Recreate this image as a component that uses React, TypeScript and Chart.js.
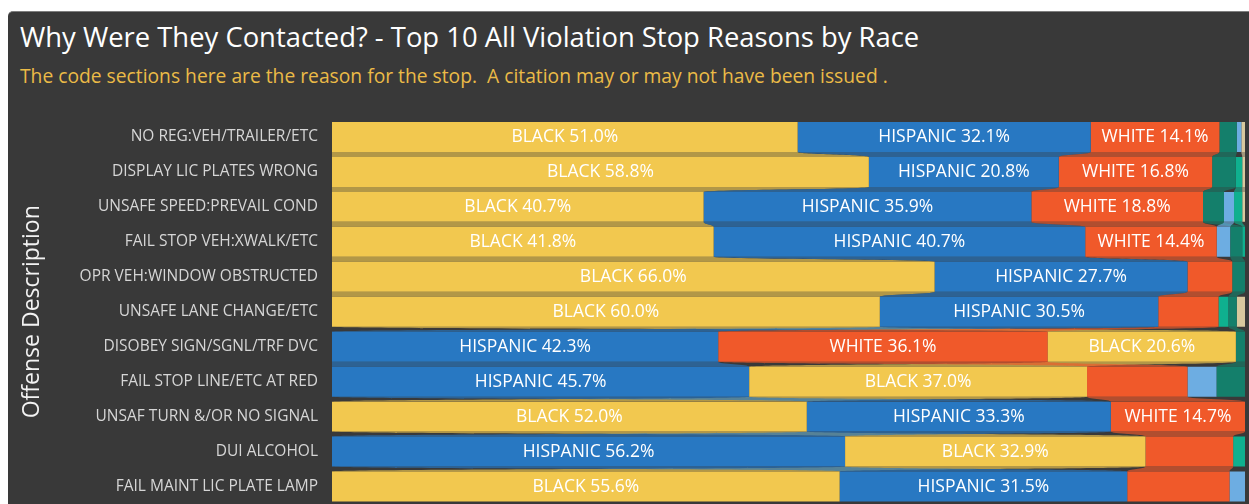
import React, { useEffect, useRef } from "react";
import { Chart, registerables } from "chart.js";

Chart.register(...registerables);

const categories = [
  "NO REG:VEH/TRAILER/ETC",
  "DISPLAY LIC PLATES WRONG",
  "UNSAFE SPEED:PREVAIL COND",
  "FAIL STOP VEH:XWALK/ETC",
  "OPR VEH:WINDOW OBSTRUCTED",
  "UNSAFE LANE CHANGE/ETC",
  "DISOBEY SIGN/SGNL/TRF DVC",
  "FAIL STOP LINE/ETC AT RED",
  "UNSAF TURN &/OR NO SIGNAL",
  "DUI ALCOHOL",
  "FAIL MAINT LIC PLATE LAMP",
];

const seriesNames = ["BLACK", "HISPANIC", "WHITE", "OTHER", "ASIAN", "UNKNOWN", "AMERICAN INDIAN"];

const black = [51.0, 58.8, 40.7, 41.8, 66.0, 60.0, 20.6, 37.0, 52.0, 32.9, 55.6];
const hispanic = [32.1, 20.8, 35.9, 40.7, 27.7, 30.5, 42.3, 45.7, 33.3, 56.2, 31.5];
const white = [14.1, 16.8, 18.8, 14.4, 4.9, 6.6, 36.1, 11.0, 14.7, 9.6, 11.2];
const other = [1.9, 2.6, 2.3, 1.3, 1.4, 0.9, 1.0, 3.1, 0, 0, 0];
const asian = [0.5, 0, 1.1, 1.5, 0, 0, 0, 3.2, 0, 0, 1.7];
const unknown = [0, 0.7, 0.9, 0.3, 0, 1.1, 0, 0, 0, 1.3, 0];
const americanIndian = [0.4, 0.3, 0.3, 0, 0, 0.9, 0, 0, 0, 0, 0];

const seriesValues = [black, hispanic, white, other, asian, unknown, americanIndian];
const seriesColors = ["#F2C84F", "#2878C2", "#F0592A", "#147F6B", "#6DADE2", "#0FB08F", "#D8C89E"];

const FONT = "'Segoe UI', 'Open Sans', sans-serif";

function hexToRgba(hex: string, a: number) {
  const n = parseInt(hex.slice(1), 16);
  return `rgba(${(n >> 16) & 255},${(n >> 8) & 255},${n & 255},${a})`;
}

// per-row ranges: each race placed in descending order of share
function buildRanges() {
  const ranges: ([number, number] | null)[][] = seriesValues.map(() => []);
  categories.forEach((_, i) => {
    const order = seriesValues
      .map((vals, s) => ({ s, v: vals[i] }))
      .sort((a, b) => b.v - a.v || a.s - b.s);
    let cum = 0;
    order.forEach(({ s, v }) => {
      ranges[s][i] = v > 0 ? [cum, cum + v] : null;
      cum += v;
    });
  });
  return ranges;
}

const ribbonPlugin = {
  id: "ribbons",
  beforeDatasetsDraw(chart: any) {
    const ctx = chart.ctx;
    const xs = chart.scales.x;
    const ys = chart.scales.y;
    const ranges = buildRanges();
    const half = 15;
    ctx.save();
    ranges.forEach((r, s) => {
      ctx.fillStyle = hexToRgba(seriesColors[s], 0.66);
      for (let i = 0; i < categories.length - 1; i++) {
        const a = r[i];
        const b = r[i + 1];
        if (!a || !b) continue;
        const yb = ys.getPixelForValue(i) + half;
        const yt = ys.getPixelForValue(i + 1) - half;
        const ym = (yb + yt) / 2;
        const a0 = xs.getPixelForValue(a[0]);
        const a1 = xs.getPixelForValue(a[1]);
        const b0 = xs.getPixelForValue(b[0]);
        const b1 = xs.getPixelForValue(b[1]);
        ctx.beginPath();
        ctx.moveTo(a0, yb);
        ctx.bezierCurveTo(a0, ym, b0, ym, b0, yt);
        ctx.lineTo(b1, yt);
        ctx.bezierCurveTo(b1, ym, a1, ym, a1, yb);
        ctx.closePath();
        ctx.fill();
      }
    });
    ctx.restore();
  },
  afterDatasetsDraw(chart: any) {
    const ctx = chart.ctx;
    const xs = chart.scales.x;
    const ys = chart.scales.y;
    const ranges = buildRanges();
    ctx.save();
    ctx.font = `17.5px ${FONT}`;
    ctx.fillStyle = "#FFFFFF";
    ctx.textAlign = "center";
    ctx.textBaseline = "middle";
    ranges.forEach((r, s) => {
      r.forEach((rg, i) => {
        if (!rg) return;
        const v = seriesValues[s][i];
        if (v < 12) return;
        const x = (xs.getPixelForValue(rg[0]) + xs.getPixelForValue(rg[1])) / 2;
        const y = ys.getPixelForValue(i);
        ctx.fillText(`${seriesNames[s]} ${v.toFixed(1)}%`, x, y);
      });
    });
    ctx.restore();
  },
};

export default function App() {
  const ref = useRef<HTMLCanvasElement>(null);

  useEffect(() => {
    if (!ref.current) return;
    const ranges = buildRanges();
    const chart = new Chart(ref.current, {
      type: "bar",
      data: {
        labels: categories,
        datasets: seriesNames.map((name, s) => ({
          label: name,
          data: ranges[s] as any,
          backgroundColor: seriesColors[s],
          borderWidth: 0,
          borderSkipped: false,
          grouped: false,
          barPercentage: 30 / 35,
          categoryPercentage: 1,
        })),
      },
      options: {
        indexAxis: "y",
        animation: false,
        responsive: false,
        maintainAspectRatio: false,
        layout: { padding: { top: 19.5, right: 4, bottom: 0, left: 0 } },
        plugins: {
          legend: { display: false },
          tooltip: { enabled: true },
        },
        scales: {
          x: { min: 0, max: 100, display: false },
          y: {
            grid: { display: false, drawTicks: false },
            border: { display: false },
            ticks: {
              color: "#D6D6D6",
              font: { family: FONT, size: 15.5 },
              padding: 14,
            },
            title: {
              display: true,
              text: "Offense Description",
              color: "#F2F2F2",
              font: { family: FONT, size: 23 },
              padding: { top: 11, bottom: 0 },
            },
            afterFit: (scale: any) => {
              scale.width = 324;
              scale.paddingTop = 0;
              scale.paddingBottom = 0;
            },
          },
        },
      },
      plugins: [ribbonPlugin],
    });
    return () => chart.destroy();
  }, []);

  return (
    <div
      style={{
        position: "fixed",
        left: 0,
        top: 0,
        width: 1249,
        height: 504,
        overflow: "hidden",
        background: "#FFFFFF",
      }}
    >
      <div
        style={{
          position: "absolute",
          left: 8,
          top: 11,
          width: 1241,
          height: 493,
          background: "#393939",
          borderTop: "1px solid #7E7E7E",
          borderTopLeftRadius: 5,
          boxSizing: "border-box",
        }}
      />
      <div
        style={{
          position: "absolute",
          left: 20,
          top: 20,
          font: `27.4px ${FONT}`,
          lineHeight: "34px",
          color: "#FFFFFF",
          whiteSpace: "nowrap",
        }}
      >
        Why Were They Contacted? - Top 10 All Violation Stop Reasons by Race
      </div>
      <div
        style={{
          position: "absolute",
          left: 20,
          top: 63,
          font: `19.25px ${FONT}`,
          lineHeight: "26px",
          color: "#EBBB47",
          whiteSpace: "pre",
        }}
      >
        The code sections here are the reason for the stop.  A citation may or may not have been issued .
      </div>
      <canvas
        ref={ref}
        width={1241}
        height={404}
        style={{ position: "absolute", left: 8, top: 100, width: 1241, height: 404 }}
      />
    </div>
  );
}
